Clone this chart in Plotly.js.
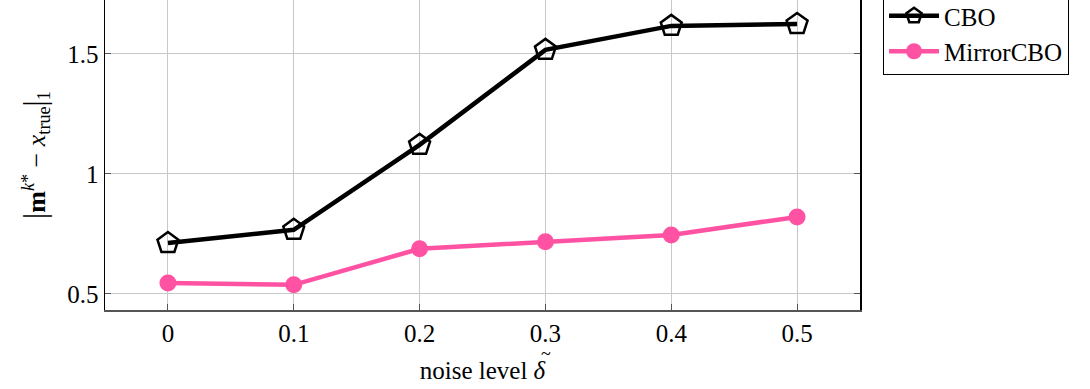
<!DOCTYPE html>
<html>
<head>
<meta charset="utf-8">
<script src="https://cdn.plot.ly/plotly-3.0.1.min.js"></script>
<style>
  html, body { margin: 0; padding: 0; background: #fff; overflow: hidden; }
  #chart { width: 1090px; height: 420px; margin-top: -31px; }
</style>
</head>
<body>
<div id="chart"></div>
<script>
// noise level on the x axis
const noiseLevels = [0, 0.1, 0.2, 0.3, 0.4, 0.5];
// L1 error of the consensus point for each method
const cboError = [0.712, 0.767, 1.121, 1.517, 1.617, 1.625];
const mirrorCboError = [0.546, 0.538, 0.688, 0.717, 0.746, 0.821];

const xTickVals = [0, 0.1, 0.2, 0.3, 0.4, 0.5];
const xTickText = ['0', '0.1', '0.2', '0.3', '0.4', '0.5'];
const yTickVals = [0.5, 1, 1.5];
const yTickText = ['0.5', '1', '1.5'];

const serif = 'Liberation Serif, Times New Roman, serif';
const pink = '#ff52a3';

const traces = [
  {
    x: noiseLevels, y: cboError, name: 'CBO', type: 'scatter', mode: 'lines+markers',
    line: { color: '#000', width: 4.5 },
    marker: { symbol: 'pentagon-open', size: 22, color: '#000', line: { color: '#000', width: 2.5 } }
  },
  {
    x: noiseLevels, y: mirrorCboError, name: 'MirrorCBO', type: 'scatter', mode: 'lines+markers',
    line: { color: pink, width: 4.5 },
    marker: { symbol: 'circle', size: 17, color: pink }
  }
];

const layout = {
  width: 1090, height: 420,
  margin: { l: 105, r: 230, t: 31, b: 79 },
  paper_bgcolor: '#fff', plot_bgcolor: '#fff',
  font: { family: serif, size: 25, color: '#000' },
  showlegend: true,
  legend: {
    x: 1.0305, xanchor: 'left', y: 0.758, yanchor: 'bottom',
    bgcolor: '#fff', bordercolor: '#000', borderwidth: 1,
    font: { family: serif, size: 25, color: '#000' },
    itemwidth: 50, tracegroupgap: 0
  },
  // tilde accent over the delta in the x-axis title
  annotations: [
    {
      text: '~', xref: 'paper', yref: 'paper', x: 0.5845, y: -0.143,
      xanchor: 'center', yanchor: 'middle', showarrow: false,
      font: { family: serif, size: 18, color: '#000' }
    }
  ],
  xaxis: {
    range: [-0.05, 0.55],
    tickvals: xTickVals, ticktext: xTickText,
    showgrid: true, gridcolor: '#c8c8c8', gridwidth: 1,
    zeroline: false,
    showline: true, linecolor: '#555', linewidth: 1.5, mirror: false,
    ticks: 'inside', ticklen: 6, tickcolor: '#555', tickwidth: 1,
    tickfont: { family: serif, size: 25 },
    title: {
      text: 'noise level <i>δ</i>',
      font: { family: serif, size: 25 }, standoff: 16
    }
  },
  yaxis: {
    range: [0.433, 1.725],
    tickvals: yTickVals, ticktext: yTickText,
    showgrid: true, gridcolor: '#c8c8c8', gridwidth: 1,
    zeroline: false,
    showline: true, linecolor: '#000', linewidth: 1.5, mirror: 'ticks',
    ticks: 'inside', ticklen: 6, tickcolor: '#555', tickwidth: 1,
    tickfont: { family: serif, size: 25 },
    title: {
      text: '<span style="font-size:31px">|</span><b>m</b><sup><i>k</i>*</sup> − <i>x</i><sub>true</sub><span style="font-size:31px">|</span><sub>1</sub>',
      font: { family: serif, size: 26 }, standoff: 14
    }
  }
};

Plotly.newPlot('chart', traces, layout, { staticPlot: true, displayModeBar: false });
</script>
</body>
</html>
